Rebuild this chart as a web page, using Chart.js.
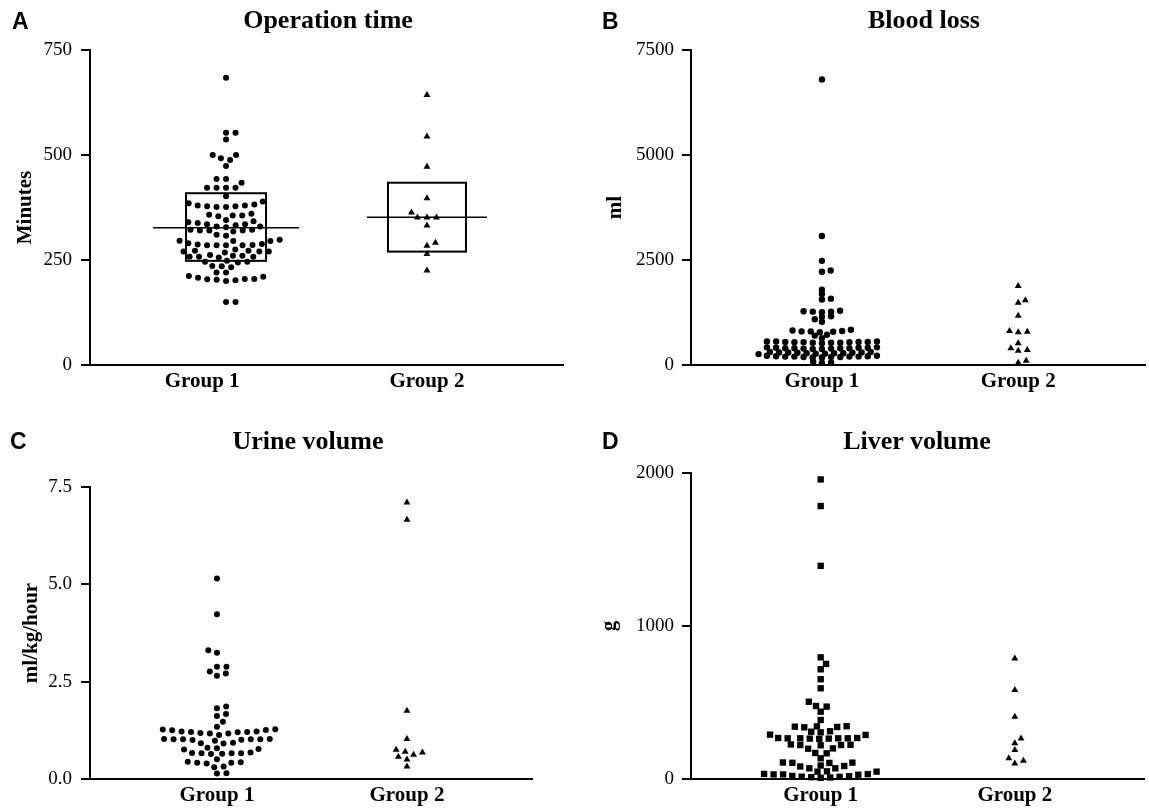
<!DOCTYPE html>
<html>
<head>
<meta charset="utf-8">
<script src="https://cdn.jsdelivr.net/npm/chart.js@4"></script>
<style>
  body { margin: 0; background: #fff; }
  #fig { position: relative; width: 1149px; height: 809px; overflow: hidden; }
  .panel { position: absolute; }
  .title { position: absolute; font: bold 26px/26px 'Liberation Serif', 'Times New Roman', serif; transform: translateX(-50%); white-space: nowrap; color: #000; }
  .letter { position: absolute; font: bold 23px/23px 'Liberation Sans', Arial, sans-serif; color: #000; }
</style>
</head>
<body>
<div id="fig">
  <canvas class="panel" id="cA" width="575" height="400" style="left:0;top:0"></canvas>
  <canvas class="panel" id="cB" width="574" height="400" style="left:575px;top:0"></canvas>
  <canvas class="panel" id="cC" width="575" height="409" style="left:0;top:400px"></canvas>
  <canvas class="panel" id="cD" width="574" height="409" style="left:575px;top:400px"></canvas>
  <div class="letter" style="left:12px;top:10px">A</div>
  <div class="letter" style="left:602px;top:10px">B</div>
  <div class="letter" style="left:10px;top:430px">C</div>
  <div class="letter" style="left:602px;top:430px">D</div>
  <div class="title" style="left:328px;top:7px">Operation time</div>
  <div class="title" style="left:924px;top:7px">Blood loss</div>
  <div class="title" style="left:308px;top:428px">Urine volume</div>
  <div class="title" style="left:917px;top:428px">Liver volume</div>
</div>
<script>
// ---- Data ----
const groups = ['Group 1', 'Group 2'];

// A: operation time (minutes)
const opTicks = [0, 250, 500, 750];
const opGroup1 = [684, 553, 553, 537, 500, 500, 492, 488, 474, 443, 443, 434,
  422, 422, 422, 422, 402, 389, 382, 380, 380, 378, 378, 376, 376, 385,
  360, 358, 356, 356, 354, 345, 342, 340, 338, 335, 335, 333, 330, 330, 328,
  322, 322, 320, 320, 320, 318, 310, 308, 298, 296, 295, 295,
  290, 288, 287, 286, 285, 285, 285, 285, 275, 272, 272, 270, 270, 270, 268,
  262, 260, 260, 258, 258, 258, 256, 248, 246, 246, 244, 236, 235, 233,
  220, 220, 212, 210, 208, 205, 205, 204, 203, 202, 200, 150, 150];
const opGroup2 = [643, 544, 472, 397, 363, 351, 351, 351, 332, 291, 284, 264, 225];
const opMedian = [327, 352];
const opQ1 = [248, 270];
const opQ3 = [409, 434];

// B: blood loss (ml)
const bloodTicks = [0, 2500, 5000, 7500];
const bloodGroup1 = [6800, 3070, 2480, 2220, 2250, 1790, 1690, 1560, 1580,
  1290, 1270, 1270, 1260, 1280, 1160, 1150, 1090, 1030,
  840, 820, 800, 790, 800, 810, 780, 720, 700, 640,
  560, 550, 540, 530, 560, 540, 530, 550, 540, 520, 560, 530, 550,
  410, 400, 390, 410, 400, 380, 420, 400, 410, 390, 400, 420, 380,
  300, 290, 280, 310, 270, 300, 290, 280, 260, 300, 310, 280, 270,
  200, 210, 180, 190, 200, 220, 180, 200, 210, 190, 220, 200, 190,
  80, 60, 50];
const bloodGroup2 = [1880, 1540, 1480, 1170, 810, 794, 780, 516, 397, 357, 340, 103, 56];

// C: urine volume (ml/kg/hour)
const urineTicks = [0, 2.5, 5, 7.5];
const urineGroup1 = [5.15, 4.23, 3.31, 3.24, 2.88, 2.88, 2.76, 2.71, 2.65,
  1.86, 1.82, 1.67, 1.62, 1.47,
  1.34, 1.28, 1.27, 1.22, 1.21, 1.17, 1.17, 1.18, 1.21, 1.22, 1.20, 1.26, 1.25,
  1.13, 1.02, 1.03, 1.01, 1.02, 1.00, 1.02, 1.03, 0.98, 1.02, 0.92, 0.93, 0.91,
  0.79, 0.80, 0.76, 0.77, 0.66, 0.67, 0.65, 0.66, 0.64, 0.66, 0.68,
  0.51, 0.42, 0.43, 0.40, 0.42, 0.44, 0.30, 0.32, 0.15, 0.14];
const urineGroup2 = [7.10, 6.66, 1.75, 1.03, 0.75, 0.70, 0.68, 0.62, 0.57, 0.50, 0.32];

// D: liver volume (g)
const liverTicks = [0, 1000, 2000];
const liverGroup1 = [1958, 1784, 1393, 795, 752, 717, 652, 593, 505, 477, 473, 440, 386,
  342, 345, 340, 338, 344, 309, 312, 305, 288, 290,
  266, 268, 264, 266, 262, 268, 266, 264, 266,
  222, 224, 220, 226, 222, 200, 198, 168, 170, 135,
  107, 105, 108, 106, 85, 82, 88, 70, 70, 48, 50, 48,
  33, 30, 28, 32, 30, 15, 12, 10, 8, 14, 18, 20];
const liverGroup2 = [788, 581, 407, 265, 233, 189, 135, 120, 102];

// ---- Box + median overlay (panel A) ----
const boxPlugin = {
  id: 'boxes',
  afterDatasetsDraw(chart, args, opts) {
    if (!opts.q1) return;
    const { ctx, scales: { x, y } } = chart;
    ctx.save();
    ctx.strokeStyle = '#000';
    opts.q1.forEach((lo, i) => {
      const cx = x.getPixelForValue(i + 1);
      const top = y.getPixelForValue(opts.q3[i]);
      const bot = y.getPixelForValue(lo);
      ctx.lineWidth = 2;
      ctx.strokeRect(cx - opts.boxHalf[i], top, 2 * opts.boxHalf[i], bot - top);
      const my = y.getPixelForValue(opts.median[i]);
      ctx.lineWidth = 1.5;
      ctx.beginPath();
      ctx.moveTo(cx - opts.lineHalf[i], my);
      ctx.lineTo(cx + opts.lineHalf[i], my);
      ctx.stroke();
    });
    ctx.restore();
  }
};

const serif = 'Liberation Serif';

function makePanel(cfg) {
  const pt = { backgroundColor: '#000', borderColor: '#000', borderWidth: 0, clip: false };
  const chart = new Chart(document.getElementById(cfg.id), {
    type: 'scatter',
    data: {
      datasets: [
        { ...pt, data: cfg.g1.map(v => ({ x: 1, y: v })), pointStyle: cfg.shape1, pointRadius: cfg.r1 },
        { ...pt, data: cfg.g2.map(v => ({ x: 2, y: v })), pointStyle: 'triangle', pointRadius: 4 }
      ]
    },
    options: {
      responsive: false,
      animation: false,
      events: [],
      layout: { padding: { left: 0, right: cfg.padRight, top: cfg.padTop, bottom: 0 } },
      plugins: { legend: { display: false }, tooltip: { enabled: false }, boxes: cfg.boxes || {} },
      scales: {
        x: {
          type: 'linear', min: cfg.xMin, max: cfg.xMax,
          grid: { display: false, drawTicks: false },
          border: { display: true, color: '#000', width: 2 },
          afterBuildTicks: s => { s.ticks = [{ value: 1 + cfg.labelShift }, { value: 2 }]; },
          ticks: { padding: 4, color: '#000', font: { family: serif, size: 21, weight: 'bold' }, callback: (v, i) => groups[i] },
          afterFit: s => { s.height = cfg.xHeight; }
        },
        y: {
          min: cfg.ticks[0], max: cfg.ticks[cfg.ticks.length - 1],
          afterBuildTicks: s => { s.ticks = cfg.ticks.map(v => ({ value: v })); },
          grid: { display: true, drawOnChartArea: false, drawTicks: true, tickLength: 9, color: '#000', lineWidth: 2 },
          border: { display: true, color: '#000', width: 2 },
          ticks: { padding: cfg.tickPad, color: '#000', font: { family: serif, size: 19 }, callback: cfg.fmt },
          title: { display: true, text: cfg.yTitle, color: '#000', font: { family: serif, size: 21, weight: 'bold' }, padding: { top: cfg.titlePad, bottom: 0 } },
          afterFit: s => { s.width = cfg.yWidth; }
        }
      }
    },
    plugins: [boxPlugin]
  });
  swarm(chart, cfg.dx || 9.5, cfg.dy || 6.5);
  return chart;
}

// spread points sideways (beeswarm) in pixel space, using the chart's own scales
function swarm(chart, DX, DY) {
  const xs = chart.scales.x, ys = chart.scales.y;
  chart.data.datasets.forEach((ds, k) => {
    const cx = xs.getPixelForValue(k + 1);
    const pys = ds.data.map(p => ys.getPixelForValue(p.y));
    const order = pys.map((p, i) => i).sort((a, b) => pys[b] - pys[a]);
    const placed = [];
    let flip = 1;
    order.forEach(i => {
      const py = pys[i];
      const near = placed.filter(q => Math.abs(q.py - py) < DY);
      const cands = [0];
      near.forEach(q => {
        const w = DX * Math.sqrt(1 - ((q.py - py) / DY) ** 2);
        cands.push(q.dx - w, q.dx + w);
      });
      const ok = c => near.every(q => ((q.dx - c) / DX) ** 2 + ((q.py - py) / DY) ** 2 >= 0.999);
      cands.sort((a, b) => Math.abs(a) - Math.abs(b) || flip * (a - b));
      const dx = cands.find(ok);
      flip = -flip;
      placed.push({ dx, py });
      ds.data[i].x = xs.getValueForPixel(cx + dx);
    });
  });
  chart.update('none');
}

const plain = v => String(v);

makePanel({
  id: 'cA', g1: opGroup1, g2: opGroup2, ticks: opTicks, yTitle: 'Minutes', fmt: plain,
  shape1: 'circle', r1: 3, xMin: 0.323, xMax: 2.677, labelShift: -0.119,
  padTop: 50, padRight: 12, yWidth: 90, xHeight: 35, tickPad: 9, titlePad: 13,
  boxes: { q1: opQ1, q3: opQ3, median: opMedian, boxHalf: [40, 39], lineHalf: [73, 60] }
});
makePanel({
  id: 'cB', g1: bloodGroup1, g2: bloodGroup2, ticks: bloodTicks, yTitle: 'ml', fmt: plain,
  shape1: 'circle', r1: 3.2, xMin: 0.333, xMax: 2.646, labelShift: 0, dx: 9.2, dy: 4,
  padTop: 50, padRight: 0, yWidth: 116, xHeight: 35, tickPad: 8, titlePad: 28
});
makePanel({
  id: 'cC', g1: urineGroup1, g2: urineGroup2, ticks: urineTicks, yTitle: 'ml/kg/hour', fmt: v => v.toFixed(1),
  shape1: 'circle', r1: 3, xMin: 0.332, xMax: 2.658, labelShift: 0,
  padTop: 87, padRight: 43, yWidth: 90, xHeight: 30, tickPad: 9, titlePad: 19
});
makePanel({
  id: 'cD', g1: liverGroup1, g2: liverGroup2, ticks: liverTicks, yTitle: 'g', fmt: plain,
  shape1: 'rect', r1: 4.5, xMin: 0.332, xMax: 2.668, labelShift: 0,
  padTop: 73, padRight: 0, yWidth: 116, xHeight: 30, tickPad: 8, titlePad: 22
});
</script>
</body>
</html>
